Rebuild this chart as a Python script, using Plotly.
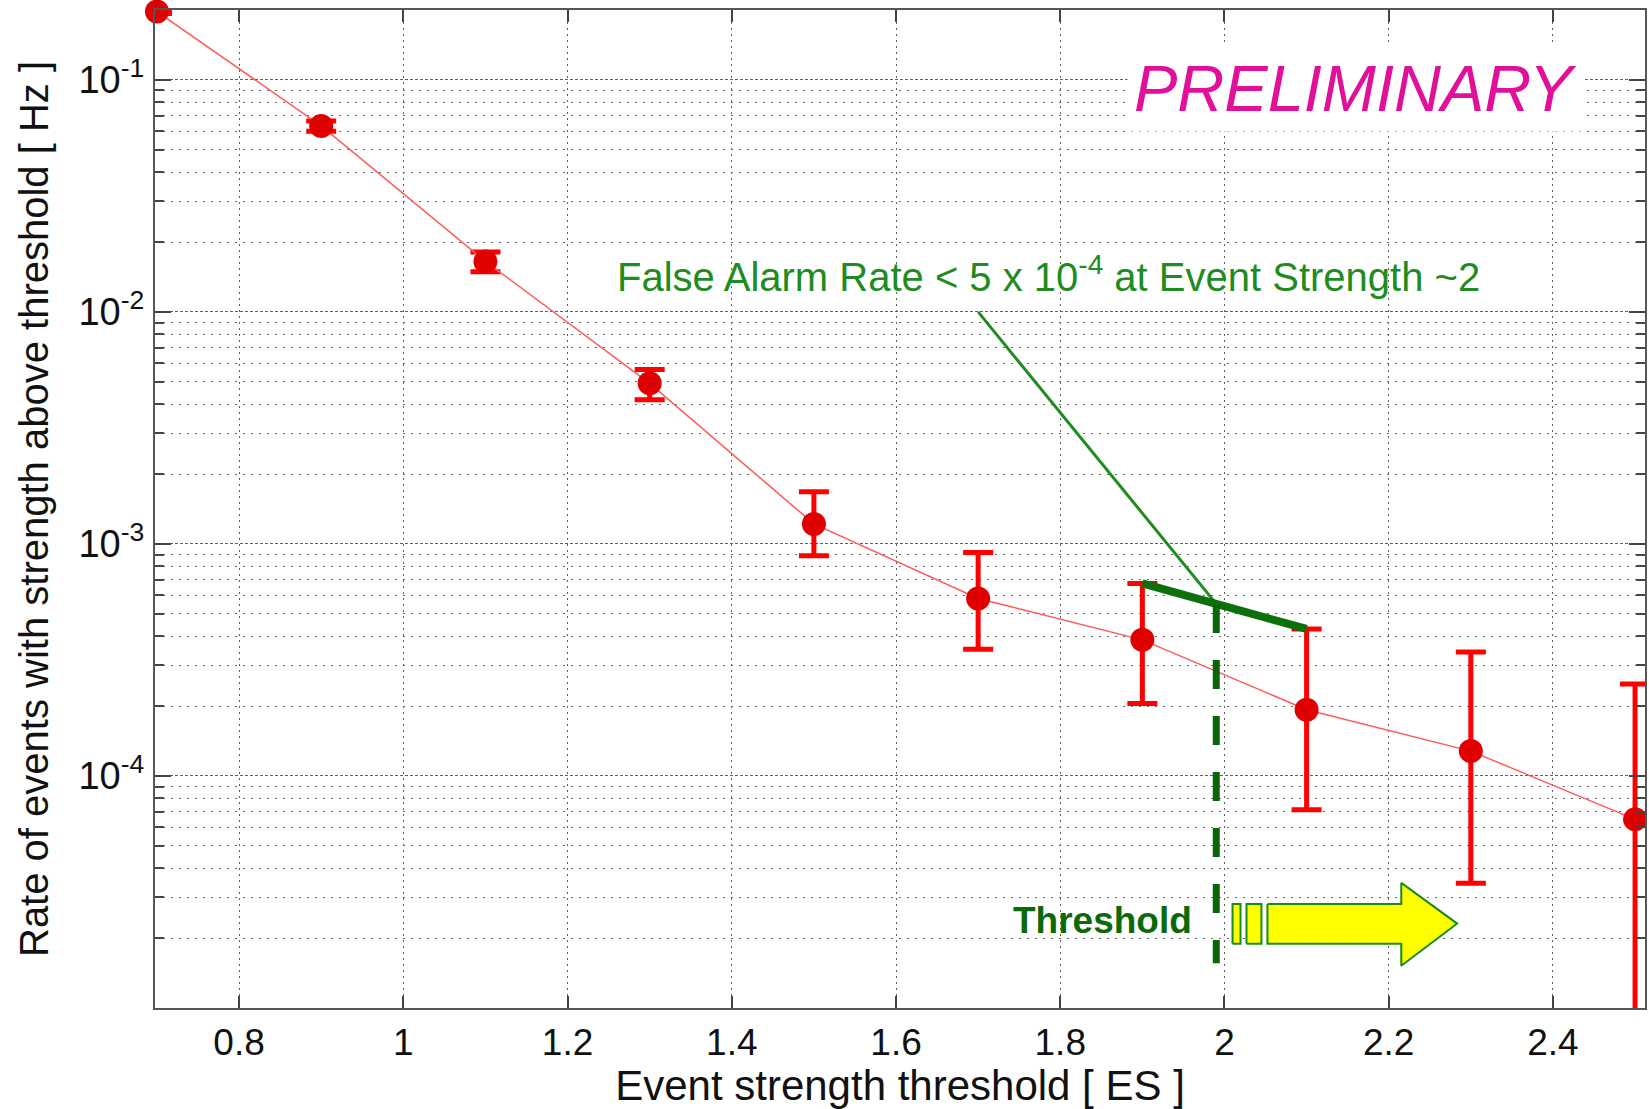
import math
import plotly.graph_objects as go

# Measured event rate above each event-strength threshold
es_threshold = [0.7, 0.9, 1.1, 1.3, 1.5, 1.7, 1.9, 2.1, 2.3, 2.5]
rate_hz = [0.197, 0.0633, 0.0165, 0.00492, 0.00122, 0.000582, 0.000386, 0.000193, 0.000128, 0.000065]
rate_upper = [0.201, 0.0664, 0.0181, 0.00565, 0.00168, 0.000918, 0.000676, 0.00043, 0.000342, 0.000249]
rate_lower = [0.193, 0.0601, 0.0149, 0.00418, 0.00089, 0.000352, 0.000205, 0.0000716, 0.0000345, 0.0]

x_tick_vals = [0.8, 1.0, 1.2, 1.4, 1.6, 1.8, 2.0, 2.2, 2.4]
x_tick_text = ["0.8", "1", "1.2", "1.4", "1.6", "1.8", "2", "2.2", "2.4"]
y_tick_vals = [1e-4, 1e-3, 1e-2, 1e-1]
y_tick_text = ["10<sup>-4</sup>", "10<sup>-3</sup>", "10<sup>-2</sup>", "10<sup>-1</sup>"]

# Operating threshold and the false-alarm annotation
threshold_es = 1.99
far_label_origin = (1.70, 0.01)
dashed_bottom = 1.56e-5

FONT = "Liberation Sans, Arial, Helvetica, sans-serif"
RED_LINE = "#ff5a5a"
RED_BAR = "#ff0000"
RED_MARK = "#e00000"
GREEN = "#1e8c1e"
DARK_GREEN = "#0c700c"

err_plus = [u - y for u, y in zip(rate_upper, rate_hz)]
err_minus = [y - l for y, l in zip(rate_hz, rate_lower)]

fig = go.Figure()

# connecting line and error bars (clipped to the axes)
fig.add_trace(go.Scatter(
    x=es_threshold, y=rate_hz, mode="lines",
    line=dict(color=RED_LINE, width=1.5),
    error_y=dict(type="data", symmetric=False, array=err_plus, arrayminus=err_minus,
                 color=RED_BAR, thickness=5, width=15),
    cliponaxis=True, showlegend=False, hoverinfo="skip",
))
# data points (allowed to overhang the frame)
fig.add_trace(go.Scatter(
    x=es_threshold, y=rate_hz, mode="markers",
    marker=dict(size=24, color=RED_MARK),
    cliponaxis=False, showlegend=False,
))

# thick segment joining the upper limits at 1.9 and 2.1
i0, i1 = es_threshold.index(1.9), es_threshold.index(2.1)
seg_x = [es_threshold[i0], es_threshold[i1]]
seg_y = [rate_upper[i0], rate_upper[i1]]
frac = (threshold_es - seg_x[0]) / (seg_x[1] - seg_x[0])
thr_y = 10 ** (math.log10(seg_y[0]) + frac * (math.log10(seg_y[1]) - math.log10(seg_y[0])))

fig.add_trace(go.Scatter(
    x=[far_label_origin[0], threshold_es], y=[far_label_origin[1], thr_y], mode="lines",
    line=dict(color=GREEN, width=3), showlegend=False, hoverinfo="skip",
))
fig.add_trace(go.Scatter(
    x=seg_x, y=seg_y, mode="lines",
    line=dict(color=DARK_GREEN, width=8), showlegend=False, hoverinfo="skip",
))
fig.add_trace(go.Scatter(
    x=[threshold_es, threshold_es], y=[thr_y, dashed_bottom], mode="lines",
    line=dict(color="#0a640a", width=7, dash="29px,27px"), showlegend=False, hoverinfo="skip",
))

# yellow block arrow pointing to higher thresholds
arrow_lo, arrow_hi = 1.89e-5, 2.81e-5
arrow_parts = [
    ([2.0098, 2.0195, 2.0195, 2.0098, 2.0098], [arrow_lo, arrow_lo, arrow_hi, arrow_hi, arrow_lo]),
    ([2.0268, 2.0450, 2.0450, 2.0268, 2.0268], [arrow_lo, arrow_lo, arrow_hi, arrow_hi, arrow_lo]),
    ([2.0523, 2.2153, 2.2153, 2.2834, 2.2153, 2.2153, 2.0523, 2.0523],
     [arrow_hi, arrow_hi, 3.46e-5, 2.31e-5, 1.52e-5, arrow_lo, arrow_lo, arrow_hi]),
]
for ax_, ay_ in arrow_parts:
    fig.add_trace(go.Scatter(
        x=ax_, y=ay_, mode="lines", fill="toself", fillcolor="#ffff00",
        line=dict(color="#1a8a1a", width=2), showlegend=False, hoverinfo="skip",
    ))

minor_vals = [m * 10 ** e for e in range(-5, 0) for m in range(2, 10) if m * 10 ** e <= 0.2]

fig.update_layout(
    width=1649, height=1109,
    margin=dict(l=155, r=2, t=10, b=97),
    paper_bgcolor="white", plot_bgcolor="white",
    font=dict(family=FONT, color="#111111"),
    showlegend=False,
    xaxis=dict(
        range=[0.6976, 2.5121],
        tickmode="array", tickvals=x_tick_vals, ticktext=x_tick_text,
        ticks="inside", ticklen=12, tickwidth=1.5, tickcolor="#444444",
        showline=True, linecolor="#555555", linewidth=2, mirror="ticks",
        showgrid=True, gridcolor="#606060", gridwidth=1, griddash="2px,4px",
        zeroline=False,
        tickfont=dict(size=37, family=FONT, color="#111111"),
        ticklabelstandoff=1,
        title=dict(text="Event strength threshold [ ES ]",
                   font=dict(size=42, family=FONT, color="#111111"), standoff=14),
    ),
    yaxis=dict(
        type="log", range=[-5, math.log10(0.2)],
        tickmode="array", tickvals=y_tick_vals, ticktext=y_tick_text,
        ticks="inside", ticklen=16, tickwidth=1.5, tickcolor="#444444",
        showline=True, linecolor="#555555", linewidth=2, mirror="ticks",
        showgrid=True, gridcolor="#606060", gridwidth=1, griddash="3px,2px",
        zeroline=False,
        minor=dict(tickmode="array", tickvals=minor_vals, ticks="inside", ticklen=9,
                   tickcolor="#444444", showgrid=True, gridcolor="#6a6a6a",
                   gridwidth=1, griddash="2px,6px"),
        tickfont=dict(size=38, family=FONT, color="#111111"),
        ticklabelstandoff=1,
        title=dict(text="Rate of events with strength above threshold [ Hz ]",
                   font=dict(size=40, family=FONT, color="#111111"), standoff=17),
    ),
    annotations=[
        dict(x=1.7854, y=-1.838, xref="x", yref="y",
             text="False Alarm Rate < 5 x 10<sup>-4</sup> at Event Strength ~2",
             showarrow=False, font=dict(size=40, family=FONT, color=GREEN)),
        dict(x=1.852, y=-4.625, xref="x", yref="y", text="<b>Threshold</b>",
             showarrow=False, font=dict(size=37, family=FONT, color="#0a6a0a")),
        dict(x=2.1594, y=-1.037, xref="x", yref="y", text="<i>PRELIMINARY</i>",
             showarrow=False, bgcolor="white", borderpad=6,
             font=dict(size=65, family=FONT, color="#e0109a")),
    ],
)

fig.write_html("out.html")
